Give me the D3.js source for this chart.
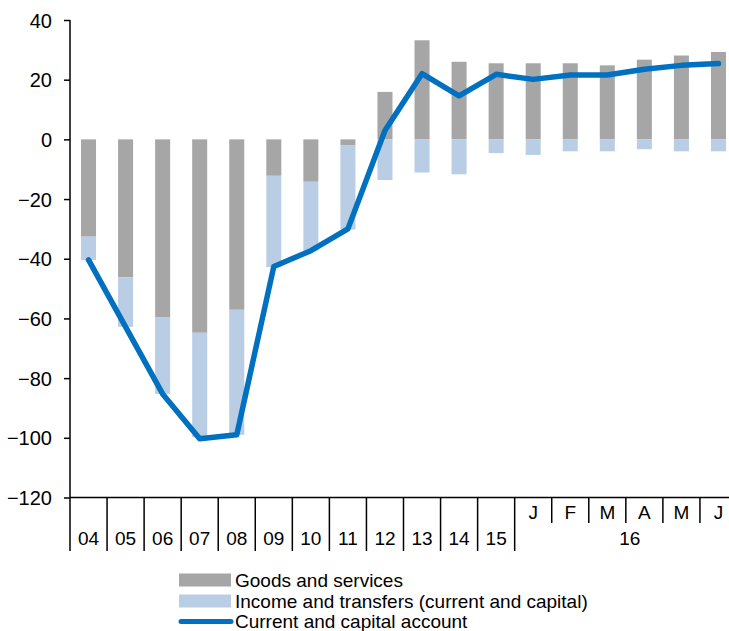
<!DOCTYPE html>
<html>
<head>
<meta charset="utf-8">
<script src="https://cdn.jsdelivr.net/npm/d3@7/dist/d3.min.js"></script>
<style>
  html, body { margin: 0; padding: 0; background: #fff; }
  svg { display: block; font-family: "Liberation Sans", Arial, sans-serif; }
</style>
</head>
<body>
<svg id="chart" width="729" height="631"></svg>
<script>
const categories = ["04","05","06","07","08","09","10","11","12","13","14","15","J","F","M","A","M","J"];
const yearGroupLabel = "16";
const goods = [-32.6,-46.2,-59.7,-64.8,-57.1,-12.2,-14.2,-1.9,15.9,33.2,26.0,25.5,25.5,25.5,24.8,26.7,28.1,29.3];
const income = [-7.8,-16.6,-25.6,-35.0,-41.9,-30.6,-23.1,-28.3,-13.6,-11.1,-11.7,-4.6,-5.2,-4.0,-4.0,-3.3,-4.0,-4.0];
const account = [-40.4,-62.8,-85.3,-100.3,-99.0,-42.6,-37.3,-30.0,3.0,22.0,14.6,21.8,20.1,21.6,21.6,23.5,24.8,25.4];
const yTicks = [40,20,0,-20,-40,-60,-80,-100,-120];
const seriesNames = ["Goods and services","Income and transfers (current and capital)","Current and capital account"];
const colors = {goods:"#A6A6A6", income:"#B9CDE5", line:"#0070C0"};
const nYears = 12;

const svg = d3.select("#chart");
const pLeft = 70, pRight = 737, pTop = 20, pBottom = 497.5;

const x = d3.scaleBand().domain(d3.range(categories.length)).range([pLeft, pRight]).padding(0);
const y = d3.scaleLinear().domain([-120, 40]).range([pBottom, pTop]);
const bw = x.bandwidth() * 0.405;
const off = (x.bandwidth() - bw) / 2;

// Bars: goods
svg.append("g").selectAll("rect").data(goods).join("rect")
  .attr("x", (d,i) => x(i) + off)
  .attr("width", bw)
  .attr("y", d => y(Math.max(0, d)))
  .attr("height", d => Math.abs(y(d) - y(0)))
  .attr("fill", colors.goods);

// Bars: income (stacked below goods if goods negative)
svg.append("g").selectAll("rect").data(income).join("rect")
  .attr("x", (d,i) => x(i) + off)
  .attr("width", bw)
  .attr("y", (d,i) => {
    const base = goods[i] < 0 ? goods[i] : 0;
    return d < 0 ? y(base) : y(base + d);
  })
  .attr("height", d => Math.abs(y(0) - y(d)))
  .attr("fill", colors.income);

// Line
const line = d3.line().x((d,i) => x(i) + x.bandwidth()/2).y(d => y(d));
svg.append("path").datum(account)
  .attr("d", line)
  .attr("fill", "none")
  .attr("stroke", colors.line)
  .attr("stroke-width", 5.5)
  .attr("stroke-linejoin", "round")
  .attr("stroke-linecap", "round");

// Y axis
const yAxis = svg.append("g").attr("transform", `translate(${pLeft},0)`)
  .call(d3.axisLeft(y).tickValues(yTicks).tickSize(6).tickPadding(12).tickFormat(d3.format("d")));
yAxis.select(".domain").attr("stroke", "#000").attr("stroke-width", 1.5).attr("d", `M0,${pTop}V${pBottom}`);
yAxis.selectAll(".tick line").attr("stroke", "#000").attr("stroke-width", 1.5);
yAxis.selectAll(".tick text").attr("font-size", 20).attr("fill", "#000")
  .attr("font-family", "Liberation Sans, Arial, sans-serif").attr("dy", "0.35em");

// X axis line
svg.append("line").attr("x1", pLeft).attr("x2", pRight).attr("y1", pBottom).attr("y2", pBottom)
  .attr("stroke", "#000").attr("stroke-width", 1.5);

// X boundary ticks
const gx = svg.append("g");
const tickLong = 551, tickShort = 523;
for (let i = 0; i <= categories.length - 1; i++) {
  const xb = x(i);
  const isLong = i <= nYears;
  gx.append("line").attr("x1", xb).attr("x2", xb).attr("y1", pBottom).attr("y2", isLong ? tickLong : tickShort)
    .attr("stroke", "#000").attr("stroke-width", 1.5);
}
// Labels
categories.forEach((c, i) => {
  const cx = x(i) + x.bandwidth()/2;
  gx.append("text").attr("x", cx).attr("y", i < nYears ? 545 : 519)
    .attr("text-anchor", "middle").attr("font-size", 19).attr("fill", "#000").text(c);
});
gx.append("text")
  .attr("x", (x(nYears) + pRight) / 2 + 4)
  .attr("y", 545).attr("text-anchor", "middle").attr("font-size", 19).attr("fill", "#000")
  .text(yearGroupLabel);

// Legend
const lg = svg.append("g");
const lx0 = 179, lx1 = 231, ltx = 235;
const rows = [580, 601, 621.5];
lg.append("rect").attr("x", lx0).attr("y", rows[0]-6.5).attr("width", lx1-lx0).attr("height", 13).attr("fill", colors.goods);
lg.append("rect").attr("x", lx0).attr("y", rows[1]-6.5).attr("width", lx1-lx0).attr("height", 13).attr("fill", colors.income);
lg.append("line").attr("x1", lx0+2).attr("x2", lx1).attr("y1", rows[2]).attr("y2", rows[2])
  .attr("stroke", colors.line).attr("stroke-width", 5).attr("stroke-linecap", "round");
seriesNames.forEach((s, i) => {
  lg.append("text").attr("x", ltx).attr("y", rows[i] + 6.5).attr("font-size", 19)
    .attr("fill", "#000").text(s);
});
</script>
</body>
</html>
